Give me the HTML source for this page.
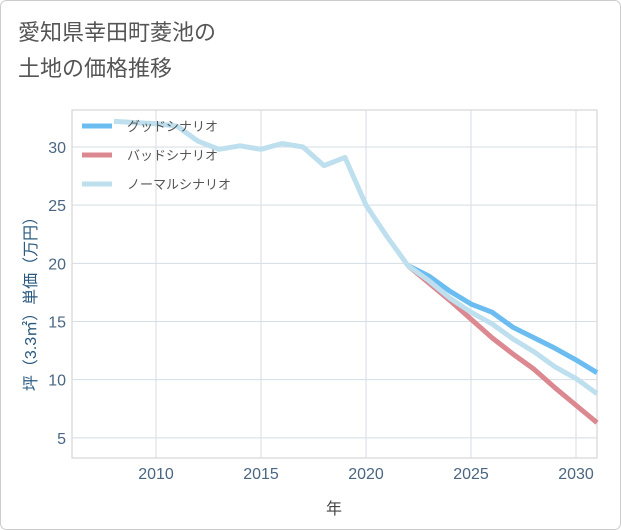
<!DOCTYPE html>
<html><head><meta charset="utf-8"><style>
body{margin:0;background:#fff;}
svg{display:block;font-family:"Liberation Sans","Noto Sans CJK JP",sans-serif;}
</style></head><body>
<svg width="621" height="530" viewBox="0 0 621 530">
<rect x="0.5" y="0.5" width="620" height="529" rx="6" fill="#fff" stroke="#ccc"/>
<text x="18" y="40" font-size="22" fill="#555">愛知県幸田町菱池の</text>
<text x="18" y="76" font-size="22" fill="#555">土地の価格推移</text>
<g id="grid"></g>
<g id="series"></g>
<g id="legend"></g>
<text x="334" y="514" font-size="16" fill="#444" text-anchor="middle">年</text>
<text transform="translate(36,300) rotate(-90)" font-size="16" fill="#2a5a80" text-anchor="middle">坪（3.3㎡）単価（万円）</text>
</svg>
<script>
const years=[2008,2009,2010,2011,2012,2013,2014,2015,2016,2017,2018,2019,2020,2021,2022,2023,2024,2025,2026,2027,2028,2029,2030,2031];
const normal=[32.2,32.1,32.0,31.8,30.5,29.8,30.1,29.8,30.3,30.0,28.4,29.1,25.0,22.3,19.8,18.5,17.0,15.8,14.8,13.5,12.4,11.1,10.1,8.8];
const futureYears=[2022,2023,2024,2025,2026,2027,2028,2029,2030,2031];
const good=[19.8,18.9,17.6,16.5,15.8,14.5,13.6,12.7,11.7,10.6];
const bad=[19.8,18.3,16.8,15.2,13.6,12.2,10.9,9.3,7.8,6.3];
const xTicks=[2010,2015,2020,2025,2030];
const yTicks=[5,10,15,20,25,30];
const NS="http://www.w3.org/2000/svg";
const X0=72,X1=597,Y0=110,Y1=458;
const xs=v=>X0+(v-2006)*(X1-X0)/25;
const ys=v=>496-v*(496-147)/30;
function mk(t,a,p){const e=document.createElementNS(NS,t);for(const k in a)e.setAttribute(k,a[k]);p.appendChild(e);return e;}
const grid=document.getElementById('grid');
const pa=mk('rect',{x:X0,y:Y0,width:X1-X0,height:Y1-Y0,fill:'none',stroke:'#ccc'},grid);


xTicks.forEach(t=>{
 const l=mk('line',{x1:xs(t),x2:xs(t),y1:Y0,y2:Y1,stroke:'#d5dde5'},grid);
 
 
 const tx=mk('text',{x:xs(t),y:479,'font-size':16,fill:'#4a6680','text-anchor':'middle'},grid);
 tx.textContent=t;
 
 
});
yTicks.forEach(t=>{
 const l=mk('line',{x1:X0,x2:X1,y1:ys(t),y2:ys(t),stroke:'#d5dde5'},grid);
 
 
 const tx=mk('text',{x:66,y:ys(t)+6,'font-size':16,fill:'#4a6680','text-anchor':'end'},grid);
 tx.textContent=t;
 
 
});
const ser=document.getElementById('series');
function line(xa,ya,col,name){
 const p=mk('polyline',{points:xa.map((x,i)=>xs(x)+','+ys(ya[i])).join(' '),fill:'none',stroke:col,'stroke-width':5,'stroke-linejoin':'round'},ser);
 
 
}
line(futureYears,bad,'#dc8890','bad-scenario-line');
line(futureYears,good,'#6bbcf0','good-scenario-line');
line(years,normal,'#bddfee','normal-scenario-line');
const lg=document.getElementById('legend');
[['グッドシナリオ','#6bbcf0',126],['バッドシナリオ','#dc8890',155],['ノーマルシナリオ','#bddfee',184]].forEach(([n,c,y])=>{
 const g=mk('g',{},lg);
 
 
 mk('line',{x1:82,x2:112,y1:y,y2:y,stroke:c,'stroke-width':5},g);
 const t=mk('text',{x:127,y:y+5,'font-size':13,fill:'#555'},g);
 t.textContent=n;
});
</script>
</body></html>
